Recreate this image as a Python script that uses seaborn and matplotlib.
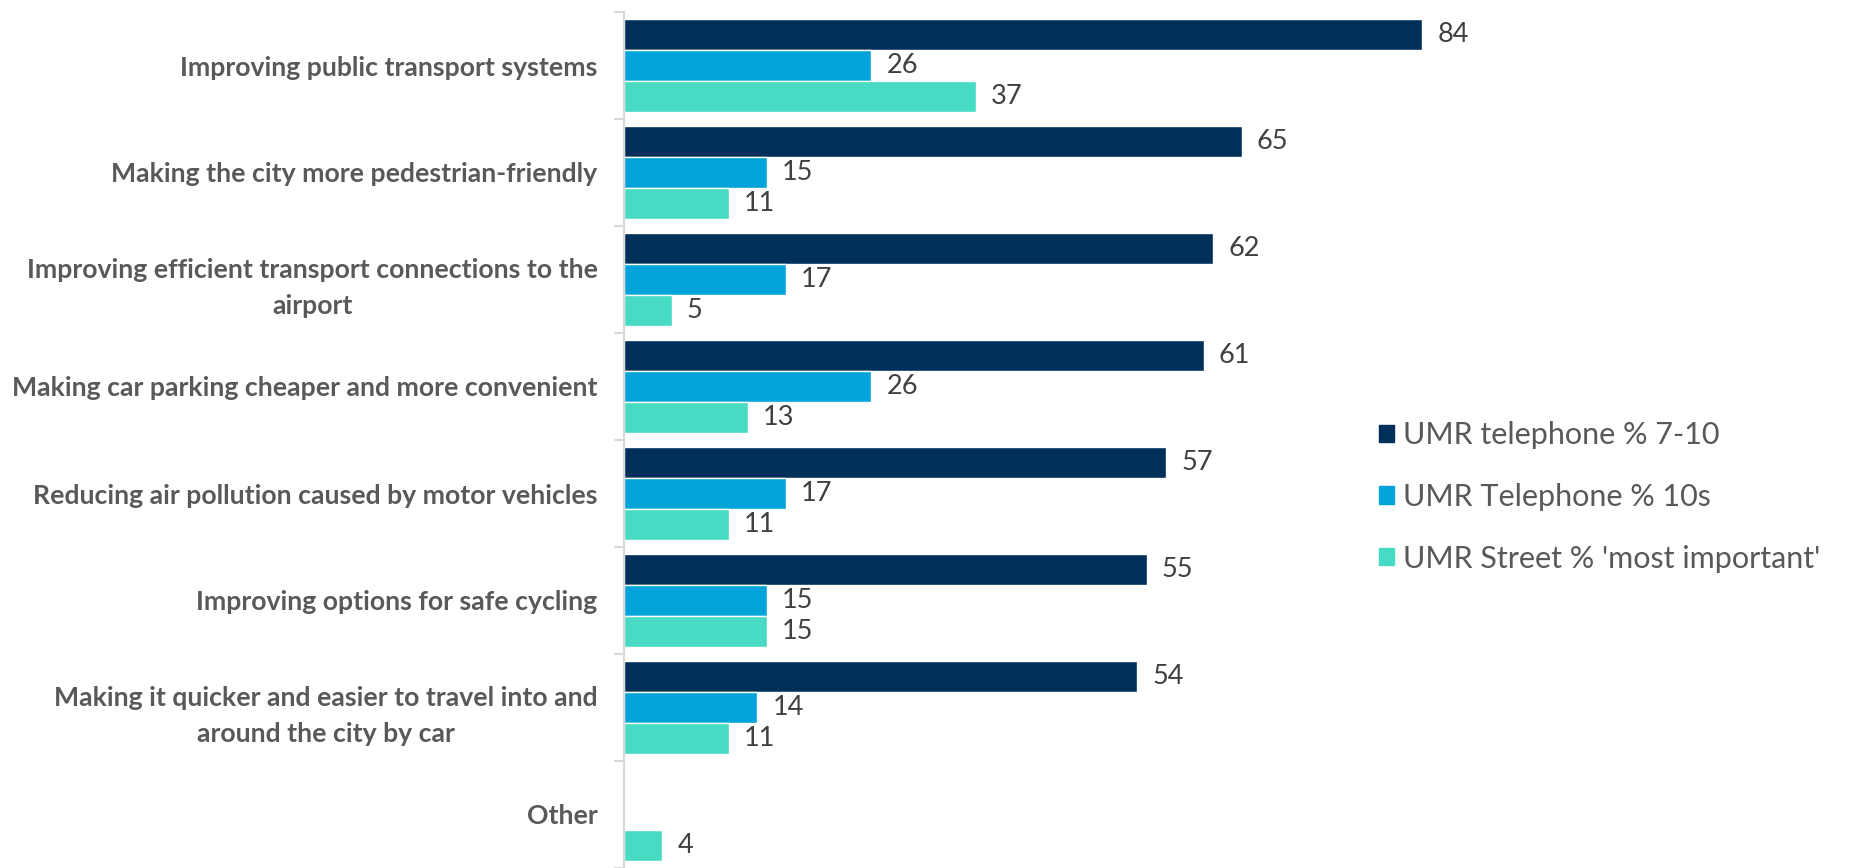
import matplotlib
matplotlib.use("Agg")
import matplotlib.pyplot as plt
import numpy as np
import pandas as pd
import seaborn as sns

categories = [
    "Improving public transport systems",
    "Making the city more pedestrian-friendly",
    "Improving efficient transport connections to the\nairport",
    "Making car parking cheaper and more convenient",
    "Reducing air pollution caused by motor vehicles",
    "Improving options for safe cycling",
    "Making it quicker and easier to travel into and\naround the city by car",
    "Other",
]
series = ["UMR telephone % 7-10", "UMR Telephone % 10s", "UMR Street % 'most important'"]
tel_7_10 = [84, 65, 62, 61, 57, 55, 54, np.nan]
tel_10s = [26, 15, 17, 26, 17, 15, 14, np.nan]
street = [37, 11, 5, 13, 11, 15, 11, 4]
colors = ["#00305A", "#00A3DA", "#48DBC3"]

df = pd.DataFrame({"category": categories, series[0]: tel_7_10,
                   series[1]: tel_10s, series[2]: street})
long = df.melt(id_vars="category", var_name="series", value_name="value").dropna()

sns.set_style("white")
plt.rcParams["font.family"] = ["Lato", "DejaVu Sans"]

fig = plt.figure(figsize=(18.54, 8.68), dpi=100)
ax = fig.add_axes([624 / 1854, 0, 0.6, 1 - 12 / 868])

sns.barplot(data=long, y="category", x="value", hue="series", order=categories,
            hue_order=series, palette=colors, saturation=1, orient="h", width=0.86,
            errorbar=None, ax=ax, legend=False)

for c in ax.containers:
    ax.bar_label(c, fmt="%.0f", padding=11, fontsize=19.5, color="#404040")

ax.set_xlim(0, 1112 / 9.5)
ax.set_ylim(-0.5 + 856 / 107.6, -0.5)
ax.set_xlabel("")
ax.set_ylabel("")
ax.xaxis.set_visible(False)
for s in ["top", "right", "bottom"]:
    ax.spines[s].set_visible(False)
ax.spines["left"].set_color("#D9D9D9")
ax.spines["left"].set_linewidth(1.5)

ax.set_yticks(range(len(categories)))
ax.set_yticklabels(categories, fontsize=19.2, fontweight="bold", color="#595959",
                   linespacing=1.6, multialignment="center")
ax.set_yticks(np.arange(-0.5, len(categories), 1), minor=True)
ax.tick_params(axis="y", which="major", length=0, pad=19)
ax.tick_params(axis="y", which="minor", length=7, width=1.5, color="#D9D9D9", left=True)

handles = [plt.Rectangle((0, 0), 1, 1, color=c) for c in colors]
fig.legend(handles, series, loc="center left", bbox_to_anchor=(1379 / 1854, 1 - 497 / 868),
           frameon=False, fontsize=22, labelcolor="#595959", handlelength=0.5,
           handleheight=0.5, handletextpad=0.3, labelspacing=1.1,
           borderpad=0, borderaxespad=0)

fig.savefig("out.png", dpi=100)
